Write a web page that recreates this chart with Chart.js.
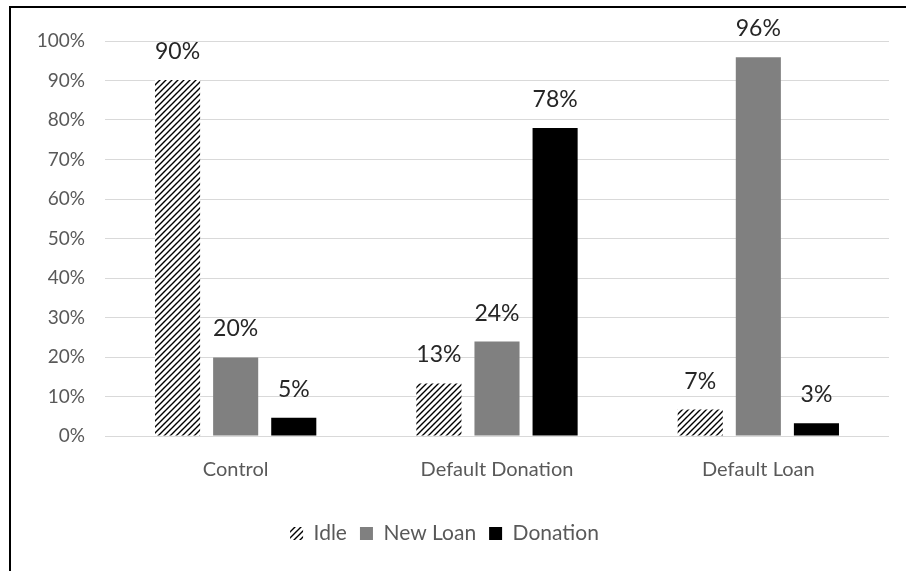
<!DOCTYPE html>
<html>
<head>
<meta charset="utf-8">
<script src="https://cdn.jsdelivr.net/npm/chart.js@4"></script>
<style>
  html, body { margin: 0; padding: 0; background: #fff; }
  #wrap { position: relative; width: 906px; height: 571px; overflow: hidden; }
  #frame { position: absolute; left: 9px; top: 6px; width: 920px; height: 600px;
           border-left: 2px solid #000; border-top: 2px solid #000; pointer-events: none; }
</style>
</head>
<body>
<div id="wrap">
  <canvas id="chart" width="906" height="571"></canvas>
  <div id="frame"></div>
</div>
<script>
// values (percent)
const categories = ['Control', 'Default Donation', 'Default Loan'];
const seriesNames = ['Idle', 'New Loan', 'Donation'];
const idleValues = [90.1, 13.3, 6.7];
const newLoanValues = [19.9, 23.9, 95.9];
const donationValues = [4.6, 78.0, 3.2];
const yTicks = [0, 10, 20, 30, 40, 50, 60, 70, 80, 90, 100];

const FONT = "Lato, 'Open Sans', sans-serif";

const ctx = document.getElementById('chart').getContext('2d');

// diagonal hatch used for the Idle series
function makeHatch() {
    const c = document.createElement('canvas');
    c.width = 6;
    c.height = 6;
    const g = c.getContext('2d');
    g.fillStyle = '#fff';
    g.fillRect(0, 0, 6, 6);
    g.strokeStyle = '#000';
    g.lineWidth = 1.4;
    g.beginPath();
    g.moveTo(-1, 7); g.lineTo(7, -1);
    g.moveTo(-1, 1); g.lineTo(1, -1);
    g.moveTo(5, 7); g.lineTo(7, 5);
    g.stroke();
    return ctx.createPattern(c, 'repeat');
}

// draws the percent label above each bar
const barLabels = {
    id: 'barLabels',
    afterDatasetsDraw(chart) {
        const c = chart.ctx;
        c.save();
        c.font = '23px ' + FONT;
        c.fillStyle = '#262626';
        c.textAlign = 'center';
        c.textBaseline = 'alphabetic';
        chart.data.datasets.forEach((ds, i) => {
            chart.getDatasetMeta(i).data.forEach((bar, j) => {
                c.fillText(Math.round(ds.data[j]) + '%', bar.x, bar.y - 21);
            });
        });
        c.restore();
    }
};

new Chart(ctx, {
    type: 'bar',
    data: {
        labels: categories,
        datasets: [
            { label: seriesNames[0], data: idleValues, backgroundColor: makeHatch(), borderWidth: 0 },
            { label: seriesNames[1], data: newLoanValues, backgroundColor: '#808080', borderWidth: 0 },
            { label: seriesNames[2], data: donationValues, backgroundColor: '#000000', borderWidth: 0 }
        ]
    },
    options: {
        responsive: false,
        animation: false,
        categoryPercentage: 0.667,
        barPercentage: 0.776,
        layout: { padding: { left: 0, top: 41, right: 17, bottom: 17 } },
        scales: {
            x: {
                grid: { display: false, drawTicks: false },
                border: { display: false },
                ticks: { color: '#595959', font: { family: FONT, size: 20 }, padding: 22 },
                afterFit(scale) { scale.height = 74; }
            },
            y: {
                min: 0,
                max: 100,
                afterBuildTicks(scale) { scale.ticks = yTicks.map(v => ({ value: v })); },
                grid: { color: '#d9d9d9', drawTicks: false },
                border: { display: false },
                ticks: {
                    color: '#595959',
                    font: { family: FONT, size: 19 },
                    padding: 20,
                    callback: v => v + '%'
                },
                afterFit(scale) { scale.width = 105; }
            }
        },
        plugins: {
            legend: {
                position: 'bottom',
                labels: {
                    color: '#595959',
                    font: { family: FONT, size: 21 },
                    boxWidth: 13,
                    boxHeight: 13,
                    padding: 13
                }
            },
            tooltip: { enabled: false }
        }
    },
    plugins: [barLabels]
});
</script>
</body>
</html>
